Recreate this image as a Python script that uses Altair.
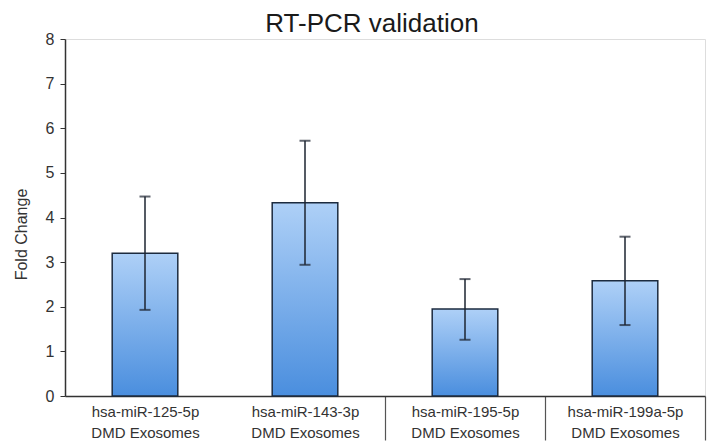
import altair as alt
import pandas as pd

categories = ["hsa-miR-125-5p", "hsa-miR-143-3p", "hsa-miR-195-5p", "hsa-miR-199a-5p"]
fold_change = [3.2, 4.33, 1.95, 2.58]
err_low = [1.93, 2.94, 1.26, 1.59]
err_high = [4.47, 5.72, 2.62, 3.57]

df = pd.DataFrame({
    "cat": categories,
    "fc": fold_change,
    "lo": err_low,
    "hi": err_high,
})

FONT = "Liberation Sans"

x = alt.X(
    "cat:N",
    sort=categories,
    scale=alt.Scale(paddingInner=0, paddingOuter=0),
    axis=alt.Axis(
        title=None,
        labelAngle=0,
        labelExpr="datum.label ? [datum.label, 'DMD Exosomes'] : ''",
        labelFont=FONT,
        labelFontSize=15,
        labelColor="#333333",
        labelLineHeight=21,
        labelPadding=-36,
        tickBand="extent",
        tickSize=44,
        tickColor="#555555",
        tickWidth=1.2,
        tickOpacity={
            "condition": {
                "test": "datum.value === 'hsa-miR-125-5p' || !datum.label",
                "value": 0,
            },
            "value": 1,
        },
        domainColor="#333333",
        domainWidth=1.5,
    ),
)

y = alt.Y(
    "fc:Q",
    scale=alt.Scale(domain=[0, 8], nice=False),
    axis=alt.Axis(
        title="Fold Change",
        titleFont=FONT,
        titleFontSize=16,
        titleFontWeight="normal",
        titleColor="#333333",
        titleX=-36,
        titleY=195,
        titleAlign="center",
        values=[0, 1, 2, 3, 4, 5, 6, 7, 8],
        grid=False,
        labelFont=FONT,
        labelFontSize=16,
        labelColor="#333333",
        labelPadding=6,
        tickSize=5,
        tickColor="#333333",
        domainColor="#333333",
        domainWidth=1.5,
    ),
)

gradient = alt.Gradient(
    gradient="linear",
    stops=[
        alt.GradientStop(color="#aed0f7", offset=0),
        alt.GradientStop(color="#4a8ede", offset=1),
    ],
    x1=0, x2=0, y1=0, y2=1,
)

base = alt.Chart(df)

bars = base.mark_bar(
    color=gradient, stroke="#1c2b3f", strokeWidth=1.5,
    width=alt.RelativeBandSize(0.41),
).encode(x=x, y=y)

rules = base.mark_rule(color="#1c2430", strokeWidth=1.5).encode(
    x=alt.X("cat:N", sort=categories), y="lo:Q", y2="hi:Q"
)
cap_lo = base.mark_tick(color="#1c2430", size=11, thickness=2).encode(
    x=alt.X("cat:N", sort=categories), y="lo:Q"
)
cap_hi = base.mark_tick(color="#1c2430", size=11, thickness=2).encode(
    x=alt.X("cat:N", sort=categories), y="hi:Q"
)

chart = (
    alt.layer(bars, rules, cap_lo, cap_hi)
    .properties(
        width=640,
        height=357,
        autosize=alt.AutoSizeParams(type="none"),
        padding={"left": 65, "top": 39, "right": 11, "bottom": 49},
        title=alt.TitleParams(
            "RT-PCR validation",
            font=FONT,
            fontSize=26,
            fontWeight="normal",
            color="#1a1a1a",
            anchor="middle",
            dx=-13,
            offset=-6,
        ),
    )
    .configure_view(stroke=None)
    .configure(background="white")
)

chart.save("out.html", embed_options={"renderer": "svg", "actions": False})
